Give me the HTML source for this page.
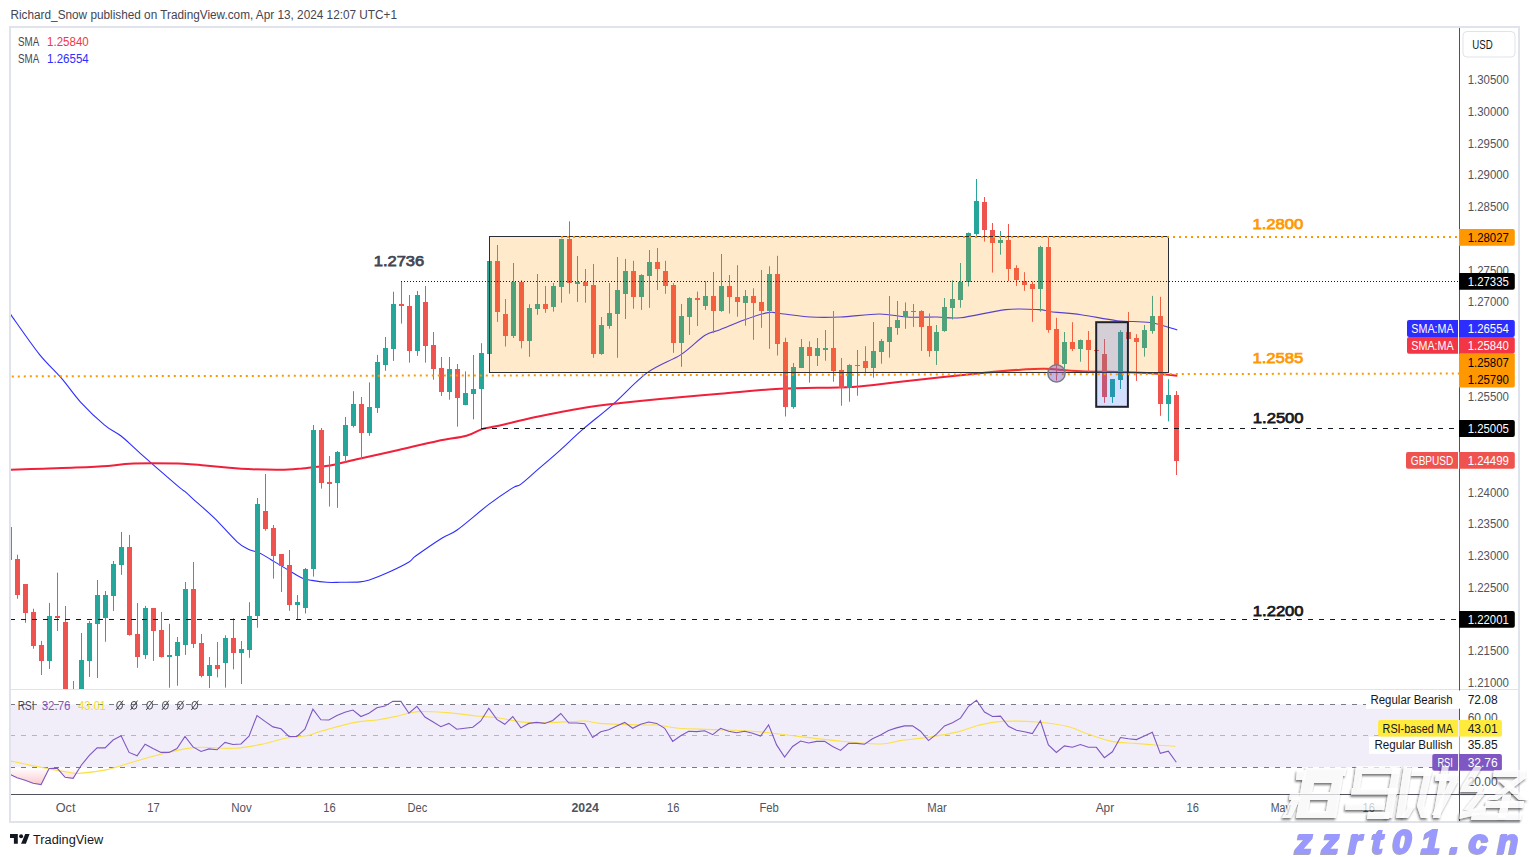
<!DOCTYPE html><html><head><meta charset="utf-8"><style>html,body{margin:0;padding:0;background:#fff;width:1529px;height:857px;overflow:hidden}svg{display:block}text{font-family:"Liberation Sans",sans-serif}</style></head><body>
<svg width="1529" height="857" viewBox="0 0 1529 857">
<defs><clipPath id="main"><rect x="11" y="28" width="1448.5" height="661"/></clipPath><clipPath id="rsi"><rect x="11" y="690" width="1448.5" height="104"/></clipPath><linearGradient id="rg" gradientUnits="userSpaceOnUse" x1="0" y1="767.3" x2="0" y2="786"><stop offset="0" stop-color="#f23645" stop-opacity="0"/><stop offset="1" stop-color="#f23645" stop-opacity="0.28"/></linearGradient></defs>
<rect width="1529" height="857" fill="#fff"/>
<text x="10.5" y="19" font-size="12" fill="#434651" textLength="386.5" lengthAdjust="spacingAndGlyphs">Richard_Snow published on TradingView.com, Apr 13, 2024 12:07 UTC+1</text>
<rect x="10" y="27" width="1509" height="795" fill="none" stroke="#e0e3eb" stroke-width="2"/>
<g clip-path="url(#main)">
<path d="M10.3,314.0 C15.1,320.7 30.7,343.4 39.2,354.1 C47.8,364.8 54.8,370.4 61.6,378.4 C68.5,386.3 73.1,394.0 80.3,401.8 C87.5,409.6 97.8,419.4 104.6,425.1 C111.4,430.9 115.5,431.6 121.4,436.3 C127.3,441.0 130.7,444.9 140.0,453.1 C149.3,461.3 169.8,479.3 177.3,485.7 C184.8,492.1 181.7,488.8 184.8,491.4 C187.9,494.0 191.0,497.1 196.0,501.6 C201.0,506.1 207.8,511.7 214.7,518.4 C221.5,525.1 231.5,536.7 237.1,541.8 C242.7,546.9 244.6,547.3 248.3,549.2 C252.0,551.1 255.8,551.3 259.5,553.0 C263.2,554.7 265.7,556.5 270.7,559.5 C275.7,562.5 284.1,567.6 289.4,570.7 C294.7,573.8 298.8,576.6 302.5,578.2 C306.2,579.8 307.8,579.7 311.8,580.4 C315.8,581.1 322.0,582.0 326.7,582.3 C331.4,582.6 334.4,582.4 340.0,582.3 C345.6,582.2 355.1,582.3 360.0,581.9 C364.9,581.5 364.6,581.5 369.3,580.0 C374.0,578.5 381.4,575.6 388.0,572.6 C394.6,569.6 403.9,565.1 408.6,562.3 C413.3,559.5 410.4,559.8 416.0,555.8 C421.6,551.8 435.3,542.3 442.2,538.0 C449.1,533.7 449.3,535.6 457.1,530.0 C464.9,524.4 479.5,511.5 488.8,504.4 C498.1,497.3 507.8,490.9 513.1,487.6 C518.4,484.3 516.6,487.3 520.6,484.4 C524.6,481.4 530.8,475.6 537.4,469.9 C544.0,464.2 552.6,456.9 560.0,450.3 C567.4,443.7 572.8,438.1 581.6,430.4 C590.4,422.7 602.1,413.9 613.0,404.3 C623.9,394.7 635.7,381.2 647.0,372.9 C658.3,364.6 671.4,360.8 681.0,354.6 C690.6,348.4 698.1,339.6 704.6,335.5 C711.1,331.4 713.4,332.3 720.0,329.7 C726.6,327.1 736.0,322.9 744.0,320.0 C752.0,317.1 762.1,313.7 768.1,312.6 C774.1,311.5 773.2,312.8 780.2,313.5 C787.2,314.2 800.3,316.4 810.3,317.0 C820.3,317.6 828.8,317.5 840.3,317.0 C851.8,316.5 868.4,314.0 879.4,314.0 C890.4,314.0 896.9,316.5 906.5,317.0 C916.1,317.5 928.0,316.9 937.0,317.0 C946.0,317.1 949.2,318.9 960.7,317.7 C972.2,316.5 992.8,311.0 1005.8,309.6 C1018.8,308.2 1031.4,309.2 1038.9,309.6 C1046.4,310.0 1043.9,310.9 1050.9,311.7 C1057.9,312.5 1070.0,313.2 1081.0,314.7 C1092.0,316.2 1105.6,319.4 1117.1,320.7 C1128.6,322.0 1140.2,320.9 1150.2,322.5 C1160.2,324.1 1172.8,328.8 1177.3,330.0" fill="none" stroke="#2d2dff" stroke-width="1.1"/>
<path d="M10.8,469.8 C16.2,469.6 32.4,469.1 43.2,468.7 C54.0,468.3 64.7,468.1 75.5,467.6 C86.3,467.1 99.0,466.5 108.0,465.9 C117.0,465.2 122.3,464.1 129.5,463.7 C136.7,463.3 142.0,463.3 151.0,463.3 C160.0,463.3 174.5,463.3 183.5,463.7 C192.5,464.1 197.8,464.9 205.0,465.5 C212.2,466.1 219.4,466.8 226.6,467.4 C233.8,468.0 239.2,468.7 248.2,469.1 C257.2,469.5 271.6,469.9 280.6,469.8 C289.6,469.7 296.8,468.9 302.2,468.5 C307.6,468.1 308.4,467.7 313.0,467.2 C317.6,466.7 322.3,466.9 330.0,465.5 C337.7,464.1 347.8,461.3 359.2,458.7 C370.6,456.1 385.4,453.0 398.5,450.0 C411.6,447.0 426.4,443.3 437.7,440.9 C449.0,438.5 459.1,437.7 466.5,435.7 C473.9,433.7 476.1,430.9 482.2,429.1 C488.3,427.3 494.4,426.7 503.1,424.7 C511.8,422.7 521.4,420.1 534.5,417.3 C547.6,414.6 567.2,410.6 581.6,408.2 C596.0,405.8 607.7,404.5 620.8,403.0 C633.9,401.5 643.5,400.5 660.0,399.0 C676.5,397.5 700.0,395.5 720.0,393.8 C740.0,392.1 758.1,389.9 780.2,388.7 C802.3,387.5 832.4,388.0 852.4,386.9 C872.4,385.8 878.5,384.2 900.5,381.8 C922.5,379.4 964.7,374.7 984.7,372.7 C1004.8,370.7 1010.8,370.3 1020.8,369.7 C1030.8,369.1 1034.9,368.6 1044.9,368.8 C1054.9,369.1 1065.0,370.6 1081.0,371.2 C1097.0,371.8 1125.2,371.9 1141.2,372.7 C1157.2,373.4 1171.3,375.2 1177.3,375.7" fill="none" stroke="#f0203a" stroke-width="2"/>
<rect x="9" y="527.0" width="1" height="33.0" fill="#ef5350"/>
<rect x="7" y="527" width="5" height="33" fill="#ef5350"/>
<rect x="17" y="554.7" width="1" height="44.0" fill="#ef5350"/>
<rect x="15" y="559" width="5" height="36" fill="#ef5350"/>
<rect x="25" y="584.0" width="1" height="38.8" fill="#ef5350"/>
<rect x="23" y="584" width="5" height="29" fill="#ef5350"/>
<rect x="33" y="608.7" width="1" height="40.0" fill="#ef5350"/>
<rect x="31" y="612" width="5" height="34" fill="#ef5350"/>
<rect x="41" y="640.9" width="1" height="34.1" fill="#ef5350"/>
<rect x="39" y="645" width="5" height="16" fill="#ef5350"/>
<rect x="49" y="602.9" width="1" height="66.1" fill="#26a69a"/>
<rect x="47" y="616" width="5" height="45" fill="#26a69a"/>
<rect x="57" y="572.6" width="1" height="58.4" fill="#ef5350"/>
<rect x="55" y="616" width="5" height="2" fill="#ef5350"/>
<rect x="65" y="606.0" width="1" height="94.0" fill="#ef5350"/>
<rect x="63" y="622" width="5" height="78" fill="#ef5350"/>
<rect x="73" y="681.0" width="1" height="19.0" fill="#ef5350"/>
<rect x="71" y="700" width="5" height="1" fill="#ef5350"/>
<rect x="81" y="633.0" width="1" height="67.0" fill="#26a69a"/>
<rect x="79" y="660" width="5" height="40" fill="#26a69a"/>
<rect x="89" y="621.0" width="1" height="56.0" fill="#26a69a"/>
<rect x="87" y="623" width="5" height="38" fill="#26a69a"/>
<rect x="97" y="580.0" width="1" height="98.0" fill="#26a69a"/>
<rect x="95" y="595" width="5" height="29" fill="#26a69a"/>
<rect x="105" y="591.0" width="1" height="50.7" fill="#26a69a"/>
<rect x="103" y="595" width="5" height="23" fill="#26a69a"/>
<rect x="113" y="561.0" width="1" height="49.9" fill="#26a69a"/>
<rect x="111" y="564" width="5" height="32" fill="#26a69a"/>
<rect x="121" y="531.9" width="1" height="42.9" fill="#26a69a"/>
<rect x="119" y="547" width="5" height="18" fill="#26a69a"/>
<rect x="129" y="534.9" width="1" height="100.8" fill="#ef5350"/>
<rect x="127" y="547" width="5" height="88" fill="#ef5350"/>
<rect x="137" y="603.0" width="1" height="64.8" fill="#ef5350"/>
<rect x="135" y="634" width="5" height="23" fill="#ef5350"/>
<rect x="145" y="605.9" width="1" height="53.0" fill="#26a69a"/>
<rect x="143" y="608" width="5" height="47" fill="#26a69a"/>
<rect x="153" y="607.9" width="1" height="53.0" fill="#ef5350"/>
<rect x="151" y="608" width="5" height="23" fill="#ef5350"/>
<rect x="161" y="611.9" width="1" height="45.6" fill="#ef5350"/>
<rect x="159" y="630" width="5" height="27" fill="#ef5350"/>
<rect x="169" y="623.8" width="1" height="63.9" fill="#26a69a"/>
<rect x="167" y="655" width="5" height="2" fill="#26a69a"/>
<rect x="177" y="637.0" width="1" height="48.7" fill="#26a69a"/>
<rect x="175" y="642" width="5" height="14" fill="#26a69a"/>
<rect x="185" y="582.0" width="1" height="72.9" fill="#26a69a"/>
<rect x="183" y="589" width="5" height="56" fill="#26a69a"/>
<rect x="193" y="562.0" width="1" height="86.0" fill="#ef5350"/>
<rect x="191" y="589" width="5" height="55" fill="#ef5350"/>
<rect x="201" y="634.0" width="1" height="43.4" fill="#ef5350"/>
<rect x="199" y="643" width="5" height="33" fill="#ef5350"/>
<rect x="209" y="657.0" width="1" height="31.0" fill="#26a69a"/>
<rect x="207" y="665" width="5" height="11" fill="#26a69a"/>
<rect x="217" y="642.0" width="1" height="35.4" fill="#ef5350"/>
<rect x="215" y="665" width="5" height="4" fill="#ef5350"/>
<rect x="225" y="635.3" width="1" height="52.3" fill="#26a69a"/>
<rect x="223" y="638" width="5" height="25" fill="#26a69a"/>
<rect x="233" y="618.3" width="1" height="51.0" fill="#ef5350"/>
<rect x="231" y="638" width="5" height="15" fill="#ef5350"/>
<rect x="241" y="641.0" width="1" height="43.0" fill="#26a69a"/>
<rect x="239" y="649" width="5" height="4" fill="#26a69a"/>
<rect x="249" y="602.2" width="1" height="55.6" fill="#26a69a"/>
<rect x="247" y="616" width="5" height="34" fill="#26a69a"/>
<rect x="257" y="498.0" width="1" height="129.7" fill="#26a69a"/>
<rect x="255" y="504" width="5" height="112" fill="#26a69a"/>
<rect x="265" y="474.0" width="1" height="56.6" fill="#ef5350"/>
<rect x="263" y="511" width="5" height="18" fill="#ef5350"/>
<rect x="273" y="525.0" width="1" height="53.6" fill="#ef5350"/>
<rect x="271" y="528" width="5" height="28" fill="#ef5350"/>
<rect x="281" y="554.0" width="1" height="38.0" fill="#ef5350"/>
<rect x="279" y="554" width="5" height="12" fill="#ef5350"/>
<rect x="289" y="550.0" width="1" height="60.8" fill="#ef5350"/>
<rect x="287" y="565" width="5" height="40" fill="#ef5350"/>
<rect x="297" y="595.0" width="1" height="24.5" fill="#26a69a"/>
<rect x="295" y="602" width="5" height="3" fill="#26a69a"/>
<rect x="305" y="568.0" width="1" height="45.5" fill="#26a69a"/>
<rect x="303" y="569" width="5" height="39" fill="#26a69a"/>
<rect x="313" y="425.0" width="1" height="151.6" fill="#26a69a"/>
<rect x="311" y="430" width="5" height="139" fill="#26a69a"/>
<rect x="321" y="428.0" width="1" height="60.6" fill="#ef5350"/>
<rect x="319" y="430" width="5" height="53" fill="#ef5350"/>
<rect x="329" y="456.0" width="1" height="50.5" fill="#ef5350"/>
<rect x="327" y="482" width="5" height="2" fill="#ef5350"/>
<rect x="337" y="451.0" width="1" height="56.8" fill="#26a69a"/>
<rect x="335" y="452" width="5" height="31" fill="#26a69a"/>
<rect x="345" y="417.0" width="1" height="45.4" fill="#26a69a"/>
<rect x="343" y="425" width="5" height="31" fill="#26a69a"/>
<rect x="353" y="391.2" width="1" height="36.3" fill="#26a69a"/>
<rect x="351" y="404" width="5" height="22" fill="#26a69a"/>
<rect x="361" y="397.0" width="1" height="62.0" fill="#ef5350"/>
<rect x="359" y="404" width="5" height="29" fill="#ef5350"/>
<rect x="369" y="382.4" width="1" height="53.4" fill="#26a69a"/>
<rect x="367" y="407" width="5" height="26" fill="#26a69a"/>
<rect x="377" y="354.9" width="1" height="58.1" fill="#26a69a"/>
<rect x="375" y="362" width="5" height="46" fill="#26a69a"/>
<rect x="385" y="337.0" width="1" height="33.8" fill="#26a69a"/>
<rect x="383" y="348" width="5" height="17" fill="#26a69a"/>
<rect x="393" y="291.7" width="1" height="69.2" fill="#26a69a"/>
<rect x="391" y="304" width="5" height="45" fill="#26a69a"/>
<rect x="401" y="281.5" width="1" height="42.1" fill="#ef5350"/>
<rect x="399" y="304" width="5" height="2" fill="#ef5350"/>
<rect x="409" y="295.0" width="1" height="67.6" fill="#ef5350"/>
<rect x="407" y="306" width="5" height="45" fill="#ef5350"/>
<rect x="417" y="291.0" width="1" height="64.8" fill="#26a69a"/>
<rect x="415" y="295" width="5" height="56" fill="#26a69a"/>
<rect x="425" y="286.0" width="1" height="76.6" fill="#ef5350"/>
<rect x="423" y="302" width="5" height="44" fill="#ef5350"/>
<rect x="433" y="332.0" width="1" height="47.7" fill="#ef5350"/>
<rect x="431" y="345" width="5" height="24" fill="#ef5350"/>
<rect x="441" y="357.0" width="1" height="38.9" fill="#ef5350"/>
<rect x="439" y="368" width="5" height="24" fill="#ef5350"/>
<rect x="449" y="357.0" width="1" height="42.7" fill="#26a69a"/>
<rect x="447" y="369" width="5" height="23" fill="#26a69a"/>
<rect x="457" y="364.0" width="1" height="62.6" fill="#ef5350"/>
<rect x="455" y="369" width="5" height="29" fill="#ef5350"/>
<rect x="465" y="371.4" width="1" height="33.9" fill="#26a69a"/>
<rect x="463" y="393" width="5" height="12" fill="#26a69a"/>
<rect x="473" y="355.0" width="1" height="64.4" fill="#26a69a"/>
<rect x="471" y="389" width="5" height="5" fill="#26a69a"/>
<rect x="481" y="343.2" width="1" height="84.8" fill="#26a69a"/>
<rect x="479" y="353" width="5" height="36" fill="#26a69a"/>
<rect x="489" y="260.6" width="1" height="92.9" fill="#26a69a"/>
<rect x="487" y="261" width="5" height="93" fill="#26a69a"/>
<rect x="497" y="245.0" width="1" height="76.9" fill="#ef5350"/>
<rect x="495" y="261" width="5" height="51" fill="#ef5350"/>
<rect x="505" y="299.0" width="1" height="47.5" fill="#ef5350"/>
<rect x="503" y="314" width="5" height="22" fill="#ef5350"/>
<rect x="513" y="263.0" width="1" height="75.0" fill="#26a69a"/>
<rect x="511" y="282" width="5" height="54" fill="#26a69a"/>
<rect x="521" y="280.3" width="1" height="68.0" fill="#ef5350"/>
<rect x="519" y="282" width="5" height="59" fill="#ef5350"/>
<rect x="529" y="304.2" width="1" height="52.6" fill="#26a69a"/>
<rect x="527" y="308" width="5" height="33" fill="#26a69a"/>
<rect x="537" y="274.0" width="1" height="40.8" fill="#26a69a"/>
<rect x="535" y="304" width="5" height="5" fill="#26a69a"/>
<rect x="545" y="286.0" width="1" height="26.8" fill="#ef5350"/>
<rect x="543" y="304" width="5" height="5" fill="#ef5350"/>
<rect x="553" y="283.0" width="1" height="28.6" fill="#26a69a"/>
<rect x="551" y="286" width="5" height="21" fill="#26a69a"/>
<rect x="561" y="238.8" width="1" height="63.9" fill="#26a69a"/>
<rect x="559" y="239" width="5" height="48" fill="#26a69a"/>
<rect x="569" y="221.3" width="1" height="72.4" fill="#ef5350"/>
<rect x="567" y="239" width="5" height="44" fill="#ef5350"/>
<rect x="577" y="256.0" width="1" height="45.9" fill="#26a69a"/>
<rect x="575" y="282" width="5" height="2" fill="#26a69a"/>
<rect x="585" y="269.0" width="1" height="33.7" fill="#ef5350"/>
<rect x="583" y="282" width="5" height="4" fill="#ef5350"/>
<rect x="593" y="264.0" width="1" height="93.8" fill="#ef5350"/>
<rect x="591" y="285" width="5" height="69" fill="#ef5350"/>
<rect x="601" y="317.0" width="1" height="37.8" fill="#26a69a"/>
<rect x="599" y="325" width="5" height="29" fill="#26a69a"/>
<rect x="609" y="283.0" width="1" height="45.7" fill="#26a69a"/>
<rect x="607" y="313" width="5" height="13" fill="#26a69a"/>
<rect x="617" y="257.0" width="1" height="100.8" fill="#26a69a"/>
<rect x="615" y="290" width="5" height="24" fill="#26a69a"/>
<rect x="625" y="258.9" width="1" height="60.1" fill="#26a69a"/>
<rect x="623" y="271" width="5" height="23" fill="#26a69a"/>
<rect x="633" y="260.8" width="1" height="47.9" fill="#ef5350"/>
<rect x="631" y="271" width="5" height="26" fill="#ef5350"/>
<rect x="641" y="274.2" width="1" height="35.7" fill="#26a69a"/>
<rect x="639" y="275" width="5" height="22" fill="#26a69a"/>
<rect x="649" y="250.0" width="1" height="57.8" fill="#26a69a"/>
<rect x="647" y="262" width="5" height="14" fill="#26a69a"/>
<rect x="657" y="248.0" width="1" height="42.0" fill="#ef5350"/>
<rect x="655" y="262" width="5" height="7" fill="#ef5350"/>
<rect x="665" y="260.8" width="1" height="33.0" fill="#ef5350"/>
<rect x="663" y="271" width="5" height="15" fill="#ef5350"/>
<rect x="673" y="283.2" width="1" height="69.6" fill="#ef5350"/>
<rect x="671" y="285" width="5" height="58" fill="#ef5350"/>
<rect x="681" y="304.0" width="1" height="62.8" fill="#26a69a"/>
<rect x="679" y="316" width="5" height="27" fill="#26a69a"/>
<rect x="689" y="297.2" width="1" height="37.7" fill="#26a69a"/>
<rect x="687" y="298" width="5" height="19" fill="#26a69a"/>
<rect x="697" y="291.6" width="1" height="34.4" fill="#ef5350"/>
<rect x="695" y="298" width="5" height="2" fill="#ef5350"/>
<rect x="705" y="281.0" width="1" height="28.9" fill="#26a69a"/>
<rect x="703" y="296" width="5" height="10" fill="#26a69a"/>
<rect x="713" y="272.0" width="1" height="61.2" fill="#ef5350"/>
<rect x="711" y="296" width="5" height="15" fill="#ef5350"/>
<rect x="721" y="254.0" width="1" height="57.8" fill="#26a69a"/>
<rect x="719" y="286" width="5" height="25" fill="#26a69a"/>
<rect x="729" y="275.0" width="1" height="38.5" fill="#ef5350"/>
<rect x="727" y="286" width="5" height="11" fill="#ef5350"/>
<rect x="737" y="265.2" width="1" height="51.5" fill="#ef5350"/>
<rect x="735" y="297" width="5" height="5" fill="#ef5350"/>
<rect x="745" y="290.0" width="1" height="35.7" fill="#26a69a"/>
<rect x="743" y="296" width="5" height="7" fill="#26a69a"/>
<rect x="753" y="288.3" width="1" height="51.5" fill="#ef5350"/>
<rect x="751" y="296" width="5" height="7" fill="#ef5350"/>
<rect x="761" y="270.0" width="1" height="57.8" fill="#ef5350"/>
<rect x="759" y="302" width="5" height="9" fill="#ef5350"/>
<rect x="769" y="266.3" width="1" height="82.5" fill="#26a69a"/>
<rect x="767" y="274" width="5" height="37" fill="#26a69a"/>
<rect x="777" y="255.8" width="1" height="99.7" fill="#ef5350"/>
<rect x="775" y="274" width="5" height="70" fill="#ef5350"/>
<rect x="785" y="337.7" width="1" height="78.8" fill="#ef5350"/>
<rect x="783" y="342" width="5" height="65" fill="#ef5350"/>
<rect x="793" y="363.0" width="1" height="45.7" fill="#26a69a"/>
<rect x="791" y="367" width="5" height="40" fill="#26a69a"/>
<rect x="801" y="339.0" width="1" height="28.6" fill="#26a69a"/>
<rect x="799" y="347" width="5" height="21" fill="#26a69a"/>
<rect x="809" y="341.3" width="1" height="41.3" fill="#ef5350"/>
<rect x="807" y="347" width="5" height="9" fill="#ef5350"/>
<rect x="817" y="338.0" width="1" height="28.0" fill="#26a69a"/>
<rect x="815" y="348" width="5" height="8" fill="#26a69a"/>
<rect x="825" y="330.0" width="1" height="30.7" fill="#26a69a"/>
<rect x="823" y="348" width="5" height="2" fill="#26a69a"/>
<rect x="833" y="311.0" width="1" height="70.7" fill="#ef5350"/>
<rect x="831" y="348" width="5" height="23" fill="#ef5350"/>
<rect x="841" y="358.0" width="1" height="47.7" fill="#ef5350"/>
<rect x="839" y="370" width="5" height="18" fill="#ef5350"/>
<rect x="849" y="364.2" width="1" height="37.5" fill="#26a69a"/>
<rect x="847" y="365" width="5" height="23" fill="#26a69a"/>
<rect x="857" y="350.0" width="1" height="45.7" fill="#26a69a"/>
<rect x="855" y="365" width="5" height="1" fill="#26a69a"/>
<rect x="865" y="346.2" width="1" height="27.1" fill="#ef5350"/>
<rect x="863" y="361" width="5" height="7" fill="#ef5350"/>
<rect x="873" y="322.0" width="1" height="55.7" fill="#26a69a"/>
<rect x="871" y="351" width="5" height="17" fill="#26a69a"/>
<rect x="881" y="339.0" width="1" height="24.7" fill="#26a69a"/>
<rect x="879" y="341" width="5" height="11" fill="#26a69a"/>
<rect x="889" y="296.0" width="1" height="61.6" fill="#26a69a"/>
<rect x="887" y="327" width="5" height="15" fill="#26a69a"/>
<rect x="897" y="301.0" width="1" height="33.8" fill="#26a69a"/>
<rect x="895" y="320" width="5" height="8" fill="#26a69a"/>
<rect x="905" y="302.4" width="1" height="26.4" fill="#26a69a"/>
<rect x="903" y="311" width="5" height="6" fill="#26a69a"/>
<rect x="913" y="304.0" width="1" height="22.9" fill="#26a69a"/>
<rect x="911" y="311" width="5" height="1" fill="#26a69a"/>
<rect x="921" y="310.2" width="1" height="40.7" fill="#ef5350"/>
<rect x="919" y="311" width="5" height="16" fill="#ef5350"/>
<rect x="929" y="313.4" width="1" height="43.4" fill="#ef5350"/>
<rect x="927" y="326" width="5" height="25" fill="#ef5350"/>
<rect x="936" y="325.0" width="1" height="39.9" fill="#26a69a"/>
<rect x="934" y="332" width="5" height="19" fill="#26a69a"/>
<rect x="944" y="298.0" width="1" height="33.8" fill="#26a69a"/>
<rect x="942" y="307" width="5" height="24" fill="#26a69a"/>
<rect x="952" y="280.3" width="1" height="39.2" fill="#26a69a"/>
<rect x="950" y="299" width="5" height="9" fill="#26a69a"/>
<rect x="960" y="263.0" width="1" height="44.7" fill="#26a69a"/>
<rect x="958" y="282" width="5" height="18" fill="#26a69a"/>
<rect x="968" y="232.5" width="1" height="53.9" fill="#26a69a"/>
<rect x="966" y="233" width="5" height="49" fill="#26a69a"/>
<rect x="976" y="179.0" width="1" height="56.7" fill="#26a69a"/>
<rect x="974" y="201" width="5" height="33" fill="#26a69a"/>
<rect x="984" y="197.0" width="1" height="44.6" fill="#ef5350"/>
<rect x="982" y="202" width="5" height="28" fill="#ef5350"/>
<rect x="992" y="223.0" width="1" height="49.6" fill="#ef5350"/>
<rect x="990" y="230" width="5" height="13" fill="#ef5350"/>
<rect x="1000" y="231.0" width="1" height="23.7" fill="#26a69a"/>
<rect x="998" y="240" width="5" height="3" fill="#26a69a"/>
<rect x="1008" y="224.0" width="1" height="57.1" fill="#ef5350"/>
<rect x="1006" y="240" width="5" height="29" fill="#ef5350"/>
<rect x="1016" y="265.2" width="1" height="20.7" fill="#ef5350"/>
<rect x="1014" y="268" width="5" height="12" fill="#ef5350"/>
<rect x="1024" y="272.2" width="1" height="18.6" fill="#ef5350"/>
<rect x="1022" y="281" width="5" height="4" fill="#ef5350"/>
<rect x="1032" y="281.5" width="1" height="40.3" fill="#ef5350"/>
<rect x="1030" y="284" width="5" height="5" fill="#ef5350"/>
<rect x="1040" y="245.8" width="1" height="65.9" fill="#26a69a"/>
<rect x="1038" y="247" width="5" height="42" fill="#26a69a"/>
<rect x="1048" y="237.5" width="1" height="95.2" fill="#ef5350"/>
<rect x="1046" y="247" width="5" height="83" fill="#ef5350"/>
<rect x="1056" y="317.8" width="1" height="62.7" fill="#ef5350"/>
<rect x="1054" y="329" width="5" height="36" fill="#ef5350"/>
<rect x="1064" y="332.0" width="1" height="36.8" fill="#26a69a"/>
<rect x="1062" y="342" width="5" height="22" fill="#26a69a"/>
<rect x="1072" y="322.2" width="1" height="28.8" fill="#ef5350"/>
<rect x="1070" y="342" width="5" height="7" fill="#ef5350"/>
<rect x="1080" y="339.5" width="1" height="22.2" fill="#26a69a"/>
<rect x="1078" y="340" width="5" height="9" fill="#26a69a"/>
<rect x="1088" y="331.0" width="1" height="42.4" fill="#ef5350"/>
<rect x="1086" y="340" width="5" height="10" fill="#ef5350"/>
<rect x="1096" y="350.0" width="1" height="1.0" fill="#ef5350"/>
<rect x="1094" y="350" width="5" height="1" fill="#ef5350"/>
<rect x="1104" y="339.0" width="1" height="63.9" fill="#ef5350"/>
<rect x="1102" y="354" width="5" height="43" fill="#ef5350"/>
<rect x="1112" y="379.2" width="1" height="23.7" fill="#26a69a"/>
<rect x="1110" y="379" width="5" height="18" fill="#26a69a"/>
<rect x="1120" y="330.2" width="1" height="58.8" fill="#26a69a"/>
<rect x="1118" y="332" width="5" height="48" fill="#26a69a"/>
<rect x="1128" y="312.0" width="1" height="26.8" fill="#ef5350"/>
<rect x="1126" y="332" width="5" height="7" fill="#ef5350"/>
<rect x="1136" y="334.2" width="1" height="46.7" fill="#ef5350"/>
<rect x="1134" y="338" width="5" height="4" fill="#ef5350"/>
<rect x="1144" y="325.0" width="1" height="31.6" fill="#26a69a"/>
<rect x="1142" y="330" width="5" height="18" fill="#26a69a"/>
<rect x="1152" y="295.9" width="1" height="37.8" fill="#26a69a"/>
<rect x="1150" y="316" width="5" height="15" fill="#26a69a"/>
<rect x="1160" y="296.8" width="1" height="119.0" fill="#ef5350"/>
<rect x="1158" y="316" width="5" height="88" fill="#ef5350"/>
<rect x="1168" y="379.2" width="1" height="42.1" fill="#26a69a"/>
<rect x="1166" y="395" width="5" height="9" fill="#26a69a"/>
<rect x="1176" y="391.0" width="1" height="84.0" fill="#ef5350"/>
<rect x="1174" y="395" width="5" height="66" fill="#ef5350"/>
<rect x="489.5" y="236.5" width="679" height="136" fill="rgba(255,152,0,0.2)" stroke="#2a2e39" stroke-width="1"/>
<rect x="1096.2" y="322.2" width="31.7" height="84.6" fill="rgba(41,98,255,0.2)" stroke="#1e222d" stroke-width="2"/>
<line x1="561" y1="237" x2="1459" y2="237" stroke="#ff9800" stroke-width="2" stroke-dasharray="2 4"/>
<line x1="11.8" y1="376.4" x2="1459" y2="373.5" stroke="#ff9800" stroke-width="2" stroke-dasharray="2 4"/>
<line x1="401" y1="281.5" x2="1459" y2="281.5" stroke="#131722" stroke-width="1" stroke-dasharray="1 2"/>
<line x1="481" y1="428.5" x2="1459" y2="428.5" stroke="#131722" stroke-width="1" stroke-dasharray="5 6"/>
<line x1="10" y1="619.5" x2="1459" y2="619.5" stroke="#131722" stroke-width="1" stroke-dasharray="5 6"/>
<circle cx="1056.5" cy="373.4" r="8.6" fill="rgba(126,87,194,0.45)" stroke="#787b86" stroke-width="1.5"/>
</g>
<text x="373.8" y="266" font-size="15" fill="#434651" stroke="#434651" stroke-width="0.75" textLength="50.4" lengthAdjust="spacingAndGlyphs">1.2736</text>
<text x="1252.4" y="229" font-size="15" fill="#ff9800" stroke="#ff9800" stroke-width="0.75" textLength="51" lengthAdjust="spacingAndGlyphs">1.2800</text>
<text x="1252.4" y="363" font-size="15" fill="#ff9800" stroke="#ff9800" stroke-width="0.75" textLength="51" lengthAdjust="spacingAndGlyphs">1.2585</text>
<text x="1252.8" y="422.8" font-size="15" fill="#131722" stroke="#131722" stroke-width="0.75" textLength="50.8" lengthAdjust="spacingAndGlyphs">1.2500</text>
<text x="1252.8" y="616" font-size="15" fill="#131722" stroke="#131722" stroke-width="0.75" textLength="50.8" lengthAdjust="spacingAndGlyphs">1.2200</text>
<text x="18" y="45.8" font-size="12" fill="#434651" textLength="21.2" lengthAdjust="spacingAndGlyphs">SMA</text><text x="47.1" y="45.8" font-size="12" fill="#f23645" textLength="41.6" lengthAdjust="spacingAndGlyphs">1.25840</text>
<text x="18" y="62.8" font-size="12" fill="#434651" textLength="21.2" lengthAdjust="spacingAndGlyphs">SMA</text><text x="47.1" y="62.8" font-size="12" fill="#2d2dff" textLength="41.6" lengthAdjust="spacingAndGlyphs">1.26554</text>
<g clip-path="url(#rsi)">
<rect x="11" y="704.4" width="1448" height="62.9" fill="rgba(126,87,194,0.1)"/>
<line x1="10" y1="704.5" x2="1459" y2="704.5" stroke="#787b86" stroke-width="1" stroke-dasharray="5 6"/>
<line x1="10" y1="735.5" x2="1459" y2="735.5" stroke="rgba(120,123,134,0.5)" stroke-width="1" stroke-dasharray="5 6"/>
<line x1="10" y1="767.5" x2="1459" y2="767.5" stroke="#787b86" stroke-width="1" stroke-dasharray="5 6"/>
<clipPath id="os"><rect x="0" y="767.3" width="1529" height="30"/></clipPath>
<polygon points="10.0,767.3 10.0,774.4 17.1,777.7 25.1,780.2 33.1,783.2 41.1,784.6 49.1,768.5 57.1,768.1 65.1,777.3 73.1,778.3 81.1,765.5 89.1,755.7 97.1,747.9 105.1,747.9 113.1,740.0 121.1,735.7 129.1,752.4 137.1,755.7 145.1,744.3 153.0,748.5 161.0,752.4 169.0,752.4 177.0,748.5 185.0,736.5 193.0,746.9 201.0,751.4 209.0,748.9 217.0,749.8 225.0,742.4 233.0,744.5 241.0,744.0 249.0,736.1 257.0,715.5 265.0,721.4 273.0,726.9 281.0,728.8 288.9,736.5 296.9,736.5 304.9,729.2 312.9,709.2 320.9,719.8 328.9,720.0 336.9,715.5 344.9,712.2 352.9,710.0 360.9,716.5 368.9,713.2 376.9,707.7 384.9,706.1 392.9,701.2 400.9,701.4 408.9,713.2 416.9,706.3 424.9,717.0 432.8,721.8 440.8,726.7 448.8,723.4 456.8,729.2 464.8,728.3 472.8,727.3 480.8,721.0 488.8,708.2 496.8,719.4 504.8,724.3 512.8,716.5 520.8,727.9 528.8,723.4 536.8,722.4 544.8,723.4 552.8,720.4 560.8,713.5 568.8,723.0 576.7,723.0 584.7,723.7 592.7,737.5 600.7,731.8 608.7,729.8 616.7,725.9 624.7,722.4 632.7,728.3 640.7,724.3 648.7,722.0 656.7,723.4 664.7,728.3 672.7,741.4 680.7,735.7 688.7,731.2 696.7,731.6 704.7,730.8 712.7,734.7 720.6,728.3 728.6,731.2 736.6,732.8 744.6,731.2 752.6,733.2 760.6,736.1 768.6,724.9 776.6,744.9 784.6,757.1 792.6,746.5 800.6,741.0 808.6,743.0 816.6,741.4 824.6,741.4 832.6,746.5 840.6,750.4 848.6,743.4 856.6,743.4 864.5,744.3 872.5,738.7 880.5,735.1 888.5,730.6 896.5,727.9 904.5,725.9 912.5,725.7 920.5,731.2 928.5,740.6 936.5,734.1 944.5,725.9 952.5,722.8 960.5,718.1 968.5,706.3 976.5,700.2 984.5,712.0 992.5,716.5 1000.5,716.1 1008.4,726.3 1016.4,730.2 1024.4,731.8 1032.4,733.6 1040.4,720.8 1048.4,744.9 1056.4,752.4 1064.4,745.9 1072.4,747.3 1080.4,744.5 1088.4,747.3 1096.4,747.3 1104.4,757.7 1112.4,751.8 1120.4,737.5 1128.4,738.7 1136.4,739.6 1144.4,736.1 1152.3,732.2 1160.3,753.4 1168.3,751.2 1176.3,762.2 1176.3,767.3" fill="url(#rg)" clip-path="url(#os)"/>
<path d="M10.4,761.0 C13.3,761.6 21.5,763.4 27.6,764.6 C33.7,765.9 40.7,767.3 47.2,768.5 C53.8,769.7 61.7,771.2 66.9,772.0 C72.1,772.8 72.1,773.8 78.6,773.4 C85.1,773.0 98.2,771.4 106.0,769.9 C113.8,768.4 117.5,766.6 125.7,764.2 C133.9,761.8 145.3,758.2 155.1,755.7 C164.9,753.2 177.1,750.3 184.6,748.9 C192.1,747.5 192.1,747.4 200.3,747.3 C208.5,747.2 223.2,748.8 233.6,748.3 C244.0,747.8 254.2,745.7 263.0,744.0 C271.8,742.3 279.1,739.4 286.6,738.0 C294.1,736.6 302.5,736.6 308.0,735.5 C313.5,734.4 311.8,733.8 319.6,731.6 C327.4,729.4 345.1,724.4 354.9,722.4 C364.7,720.4 371.3,720.9 378.5,719.8 C385.7,718.7 391.5,717.4 398.0,716.0 C404.5,714.6 409.5,712.2 417.7,711.6 C425.9,711.0 437.2,711.9 447.0,712.6 C456.8,713.3 468.4,715.2 476.6,716.0 C484.8,716.8 488.0,716.4 496.2,717.5 C504.4,718.6 515.8,721.6 525.6,722.4 C535.4,723.2 545.2,722.6 555.0,722.4 C564.8,722.2 577.0,720.8 584.5,721.0 C592.0,721.2 590.9,722.7 600.0,723.4 C609.1,724.1 629.7,724.7 639.2,725.0 C648.7,725.3 650.4,724.5 656.9,725.0 C663.4,725.5 668.4,727.5 678.5,728.3 C688.6,729.1 704.6,729.0 717.7,729.6 C730.8,730.2 743.9,730.5 757.0,731.6 C770.1,732.7 783.1,734.6 796.2,736.1 C809.3,737.6 821.3,739.3 835.4,740.6 C849.5,741.9 869.8,744.0 880.6,744.0 C891.4,744.0 891.9,741.8 900.0,740.6 C908.1,739.5 919.6,738.6 929.4,737.1 C939.2,735.6 950.7,733.6 958.9,731.6 C967.1,729.6 971.3,727.0 978.5,725.3 C985.7,723.6 992.2,721.9 1002.0,721.4 C1011.8,720.9 1026.5,721.2 1037.3,722.0 C1048.1,722.8 1058.3,724.3 1066.8,726.3 C1075.3,728.3 1080.8,731.6 1088.3,734.1 C1095.8,736.6 1104.1,739.9 1111.9,741.4 C1119.8,742.9 1128.2,742.8 1135.4,743.4 C1142.6,744.0 1148.3,744.5 1155.0,745.0 C1161.7,745.5 1172.2,746.1 1175.6,746.3" fill="none" stroke="#fbe14a" stroke-width="1.1"/>
<polyline points="10.0,774.4 17.1,777.7 25.1,780.2 33.1,783.2 41.1,784.6 49.1,768.5 57.1,768.1 65.1,777.3 73.1,778.3 81.1,765.5 89.1,755.7 97.1,747.9 105.1,747.9 113.1,740.0 121.1,735.7 129.1,752.4 137.1,755.7 145.1,744.3 153.0,748.5 161.0,752.4 169.0,752.4 177.0,748.5 185.0,736.5 193.0,746.9 201.0,751.4 209.0,748.9 217.0,749.8 225.0,742.4 233.0,744.5 241.0,744.0 249.0,736.1 257.0,715.5 265.0,721.4 273.0,726.9 281.0,728.8 288.9,736.5 296.9,736.5 304.9,729.2 312.9,709.2 320.9,719.8 328.9,720.0 336.9,715.5 344.9,712.2 352.9,710.0 360.9,716.5 368.9,713.2 376.9,707.7 384.9,706.1 392.9,701.2 400.9,701.4 408.9,713.2 416.9,706.3 424.9,717.0 432.8,721.8 440.8,726.7 448.8,723.4 456.8,729.2 464.8,728.3 472.8,727.3 480.8,721.0 488.8,708.2 496.8,719.4 504.8,724.3 512.8,716.5 520.8,727.9 528.8,723.4 536.8,722.4 544.8,723.4 552.8,720.4 560.8,713.5 568.8,723.0 576.7,723.0 584.7,723.7 592.7,737.5 600.7,731.8 608.7,729.8 616.7,725.9 624.7,722.4 632.7,728.3 640.7,724.3 648.7,722.0 656.7,723.4 664.7,728.3 672.7,741.4 680.7,735.7 688.7,731.2 696.7,731.6 704.7,730.8 712.7,734.7 720.6,728.3 728.6,731.2 736.6,732.8 744.6,731.2 752.6,733.2 760.6,736.1 768.6,724.9 776.6,744.9 784.6,757.1 792.6,746.5 800.6,741.0 808.6,743.0 816.6,741.4 824.6,741.4 832.6,746.5 840.6,750.4 848.6,743.4 856.6,743.4 864.5,744.3 872.5,738.7 880.5,735.1 888.5,730.6 896.5,727.9 904.5,725.9 912.5,725.7 920.5,731.2 928.5,740.6 936.5,734.1 944.5,725.9 952.5,722.8 960.5,718.1 968.5,706.3 976.5,700.2 984.5,712.0 992.5,716.5 1000.5,716.1 1008.4,726.3 1016.4,730.2 1024.4,731.8 1032.4,733.6 1040.4,720.8 1048.4,744.9 1056.4,752.4 1064.4,745.9 1072.4,747.3 1080.4,744.5 1088.4,747.3 1096.4,747.3 1104.4,757.7 1112.4,751.8 1120.4,737.5 1128.4,738.7 1136.4,739.6 1144.4,736.1 1152.3,732.2 1160.3,753.4 1168.3,751.2 1176.3,762.2" fill="none" stroke="#7e57c2" stroke-width="1.1"/>
</g>
<text x="17.8" y="709.5" font-size="12" fill="#434651" textLength="16.7" lengthAdjust="spacingAndGlyphs">RSI</text>
<text x="41.7" y="709.5" font-size="12" fill="#7e57c2" textLength="28.7" lengthAdjust="spacingAndGlyphs">32.76</text>
<text x="78.2" y="709.5" font-size="12" fill="#f7dc1e" textLength="27.8" lengthAdjust="spacingAndGlyphs">43.01</text>
<g stroke="#434651" stroke-width="1" fill="none"><ellipse cx="119.60000000000001" cy="705.3" rx="2.9" ry="3.9"/><line x1="116.10000000000001" y1="710" x2="123.10000000000001" y2="700.6"/></g>
<g stroke="#434651" stroke-width="1" fill="none"><ellipse cx="134.0" cy="705.3" rx="2.9" ry="3.9"/><line x1="130.5" y1="710" x2="137.5" y2="700.6"/></g>
<g stroke="#434651" stroke-width="1" fill="none"><ellipse cx="149.70000000000002" cy="705.3" rx="2.9" ry="3.9"/><line x1="146.20000000000002" y1="710" x2="153.20000000000002" y2="700.6"/></g>
<g stroke="#434651" stroke-width="1" fill="none"><ellipse cx="165.4" cy="705.3" rx="2.9" ry="3.9"/><line x1="161.9" y1="710" x2="168.9" y2="700.6"/></g>
<g stroke="#434651" stroke-width="1" fill="none"><ellipse cx="180.4" cy="705.3" rx="2.9" ry="3.9"/><line x1="176.9" y1="710" x2="183.9" y2="700.6"/></g>
<g stroke="#434651" stroke-width="1" fill="none"><ellipse cx="194.8" cy="705.3" rx="2.9" ry="3.9"/><line x1="191.3" y1="710" x2="198.3" y2="700.6"/></g>
<line x1="11" y1="689.5" x2="1518" y2="689.5" stroke="#e0e3eb" stroke-width="1"/>
<line x1="11" y1="794.5" x2="1518" y2="794.5" stroke="#50535e" stroke-width="1"/>
<line x1="1459.5" y1="28" x2="1459.5" y2="821" stroke="#50535e" stroke-width="1"/>
<text x="1509" y="84.3" font-size="12" fill="#50535e" text-anchor="end" textLength="41.3" lengthAdjust="spacingAndGlyphs">1.30500</text>
<text x="1509" y="116.0" font-size="12" fill="#50535e" text-anchor="end" textLength="41.3" lengthAdjust="spacingAndGlyphs">1.30000</text>
<text x="1509" y="147.7" font-size="12" fill="#50535e" text-anchor="end" textLength="41.3" lengthAdjust="spacingAndGlyphs">1.29500</text>
<text x="1509" y="179.4" font-size="12" fill="#50535e" text-anchor="end" textLength="41.3" lengthAdjust="spacingAndGlyphs">1.29000</text>
<text x="1509" y="211.1" font-size="12" fill="#50535e" text-anchor="end" textLength="41.3" lengthAdjust="spacingAndGlyphs">1.28500</text>
<text x="1509" y="274.6" font-size="12" fill="#50535e" text-anchor="end" textLength="41.3" lengthAdjust="spacingAndGlyphs">1.27500</text>
<text x="1509" y="306.3" font-size="12" fill="#50535e" text-anchor="end" textLength="41.3" lengthAdjust="spacingAndGlyphs">1.27000</text>
<text x="1509" y="401.4" font-size="12" fill="#50535e" text-anchor="end" textLength="41.3" lengthAdjust="spacingAndGlyphs">1.25500</text>
<text x="1509" y="496.5" font-size="12" fill="#50535e" text-anchor="end" textLength="41.3" lengthAdjust="spacingAndGlyphs">1.24000</text>
<text x="1509" y="528.2" font-size="12" fill="#50535e" text-anchor="end" textLength="41.3" lengthAdjust="spacingAndGlyphs">1.23500</text>
<text x="1509" y="559.9" font-size="12" fill="#50535e" text-anchor="end" textLength="41.3" lengthAdjust="spacingAndGlyphs">1.23000</text>
<text x="1509" y="591.7" font-size="12" fill="#50535e" text-anchor="end" textLength="41.3" lengthAdjust="spacingAndGlyphs">1.22500</text>
<text x="1509" y="655.1" font-size="12" fill="#50535e" text-anchor="end" textLength="41.3" lengthAdjust="spacingAndGlyphs">1.21500</text>
<text x="1509" y="686.8" font-size="12" fill="#50535e" text-anchor="end" textLength="41.3" lengthAdjust="spacingAndGlyphs">1.21000</text>
<rect x="1463" y="31.5" width="52" height="25.5" rx="4" fill="#fff" stroke="#e0e3eb" stroke-width="1"/>
<text x="1472.3" y="48.5" font-size="12" fill="#131722" textLength="20.4" lengthAdjust="spacingAndGlyphs">USD</text>
<path d="M1459,228.9 H1512.8 a2,2 0 0 1 2,2 V243.8 a2,2 0 0 1 -2,2 H1459 Z" fill="#ff9800"/>
<text x="1508.9" y="241.7" font-size="12" fill="#000" text-anchor="end" textLength="41.2" lengthAdjust="spacingAndGlyphs">1.28027</text>
<path d="M1459,273.1 H1512.8 a2,2 0 0 1 2,2 V287.7 a2,2 0 0 1 -2,2 H1459 Z" fill="#000"/>
<text x="1508.9" y="285.7" font-size="12" fill="#fff" text-anchor="end" textLength="41.2" lengthAdjust="spacingAndGlyphs">1.27335</text>
<path d="M1459,320.1 H1512.8 a2,2 0 0 1 2,2 V334.9 a2,2 0 0 1 -2,2 H1459 Z" fill="#2d2dff"/>
<text x="1508.9" y="332.8" font-size="12" fill="#fff" text-anchor="end" textLength="41.2" lengthAdjust="spacingAndGlyphs">1.26554</text>
<path d="M1458,320.1 H1409 a2,2 0 0 0 -2,2 V334.9 a2,2 0 0 0 2,2 H1458 Z" fill="#2d2dff"/>
<rect x="1458" y="320.1" width="1" height="16.8" fill="#fff"/>
<text x="1432.5" y="332.8" font-size="12" fill="#fff" text-anchor="middle" textLength="42.3" lengthAdjust="spacingAndGlyphs">SMA:MA</text>
<path d="M1459,336.9 H1512.8 a2,2 0 0 1 2,2 V351.7 a2,2 0 0 1 -2,2 H1459 Z" fill="#f23645"/>
<text x="1508.9" y="349.6" font-size="12" fill="#fff" text-anchor="end" textLength="41.2" lengthAdjust="spacingAndGlyphs">1.25840</text>
<path d="M1458,336.9 H1409 a2,2 0 0 0 -2,2 V351.7 a2,2 0 0 0 2,2 H1458 Z" fill="#f23645"/>
<rect x="1458" y="336.9" width="1" height="16.8" fill="#fff"/>
<text x="1432.5" y="349.6" font-size="12" fill="#fff" text-anchor="middle" textLength="42.3" lengthAdjust="spacingAndGlyphs">SMA:MA</text>
<path d="M1459,353.7 H1514.8 V385.6 a2,2 0 0 1 -2,2 H1459 Z" fill="#ff9800"/>
<text x="1508.9" y="366.9" font-size="12" fill="#000" text-anchor="end" textLength="41.2" lengthAdjust="spacingAndGlyphs">1.25807</text>
<text x="1508.9" y="383.7" font-size="12" fill="#000" text-anchor="end" textLength="41.2" lengthAdjust="spacingAndGlyphs">1.25790</text>
<path d="M1459,420.1 H1512.8 a2,2 0 0 1 2,2 V434.9 a2,2 0 0 1 -2,2 H1459 Z" fill="#000"/>
<text x="1508.9" y="432.8" font-size="12" fill="#fff" text-anchor="end" textLength="41.2" lengthAdjust="spacingAndGlyphs">1.25005</text>
<path d="M1459,452 H1512.8 a2,2 0 0 1 2,2 V466.8 a2,2 0 0 1 -2,2 H1459 Z" fill="#ef5350"/>
<text x="1508.9" y="464.7" font-size="12" fill="#fff" text-anchor="end" textLength="41.2" lengthAdjust="spacingAndGlyphs">1.24499</text>
<path d="M1458,452 H1408 a2,2 0 0 0 -2,2 V466.8 a2,2 0 0 0 2,2 H1458 Z" fill="#ef5350"/>
<rect x="1458" y="452" width="1" height="16.8" fill="#fff"/>
<text x="1432.0" y="464.7" font-size="12" fill="#fff" text-anchor="middle" textLength="42.3" lengthAdjust="spacingAndGlyphs">GBPUSD</text>
<path d="M1459,611.1 H1512.8 a2,2 0 0 1 2,2 V625.8 a2,2 0 0 1 -2,2 H1459 Z" fill="#000"/>
<text x="1508.9" y="623.8" font-size="12" fill="#fff" text-anchor="end" textLength="41.2" lengthAdjust="spacingAndGlyphs">1.22001</text>
<rect x="1366" y="692.8" width="93.5" height="16" fill="#fff"/>
<text x="1370.5" y="704.2" font-size="12" fill="#131722" textLength="82" lengthAdjust="spacingAndGlyphs">Regular Bearish</text>
<rect x="1458" y="690.5" width="57" height="18" fill="#fff"/>
<text x="1467.7" y="704.2" font-size="12" fill="#131722">72.08</text>
<text x="1467.7" y="722" font-size="12" fill="#50535e">60.00</text>
<path d="M1458,720.1 H1380.1 a2,2 0 0 0 -2,2 V734.8 a2,2 0 0 0 2,2 H1458 Z" fill="#ffeb3b"/>
<text x="1382.6" y="732.5" font-size="12" fill="#131722" textLength="70.3" lengthAdjust="spacingAndGlyphs">RSI-based MA</text>
<path d="M1459,720.1 H1499.9 a2,2 0 0 1 2,2 V734.8 a2,2 0 0 1 -2,2 H1459 Z" fill="#ffeb3b"/>
<text x="1467.7" y="732.5" font-size="12" fill="#131722">43.01</text>
<rect x="1369" y="736.8" width="90.5" height="17" fill="#fff"/>
<text x="1374.5" y="749.4" font-size="12" fill="#131722" textLength="78" lengthAdjust="spacingAndGlyphs">Regular Bullish</text>
<rect x="1460" y="736.8" width="42" height="17" fill="#fff"/>
<text x="1467.7" y="749.4" font-size="12" fill="#131722">35.85</text>
<path d="M1458,754 H1434.3 a2,2 0 0 0 -2,2 V768.7 a2,2 0 0 0 2,2 H1458 Z" fill="#7e57c2"/>
<text x="1437.4" y="766.5" font-size="12" fill="#fff" textLength="15.5" lengthAdjust="spacingAndGlyphs">RSI</text>
<path d="M1459,754 H1499.9 a2,2 0 0 1 2,2 V768.7 a2,2 0 0 1 -2,2 H1459 Z" fill="#7e57c2"/>
<text x="1467.7" y="766.5" font-size="12" fill="#fff">32.76</text>
<text x="1467.7" y="786.3" font-size="12" fill="#50535e">20.00</text>
<text x="65.6" y="812.3" font-size="12" fill="#50535e" text-anchor="middle" textLength="19.7" lengthAdjust="spacingAndGlyphs">Oct</text>
<text x="153.5" y="812.3" font-size="12" fill="#50535e" text-anchor="middle" textLength="12.4" lengthAdjust="spacingAndGlyphs">17</text>
<text x="241.5" y="812.3" font-size="12" fill="#50535e" text-anchor="middle" textLength="20.5" lengthAdjust="spacingAndGlyphs">Nov</text>
<text x="329.4" y="812.3" font-size="12" fill="#50535e" text-anchor="middle" textLength="12.4" lengthAdjust="spacingAndGlyphs">16</text>
<text x="417.4" y="812.3" font-size="12" fill="#50535e" text-anchor="middle" textLength="19.7" lengthAdjust="spacingAndGlyphs">Dec</text>
<text x="585.2" y="812.3" font-size="12" fill="#50535e" text-anchor="middle" font-weight="bold" textLength="27.5" lengthAdjust="spacingAndGlyphs">2024</text>
<text x="673.2" y="812.3" font-size="12" fill="#50535e" text-anchor="middle" textLength="12.4" lengthAdjust="spacingAndGlyphs">16</text>
<text x="769.1" y="812.3" font-size="12" fill="#50535e" text-anchor="middle" textLength="19.4" lengthAdjust="spacingAndGlyphs">Feb</text>
<text x="937.0" y="812.3" font-size="12" fill="#50535e" text-anchor="middle" textLength="19.5" lengthAdjust="spacingAndGlyphs">Mar</text>
<text x="1104.9" y="812.3" font-size="12" fill="#50535e" text-anchor="middle" textLength="18.5" lengthAdjust="spacingAndGlyphs">Apr</text>
<text x="1192.8" y="812.3" font-size="12" fill="#50535e" text-anchor="middle" textLength="12.4" lengthAdjust="spacingAndGlyphs">16</text>
<text x="1280.8" y="812.3" font-size="12" fill="#50535e" text-anchor="middle" textLength="20" lengthAdjust="spacingAndGlyphs">May</text>
<text x="1368.7" y="812.3" font-size="12" fill="#50535e" text-anchor="middle" textLength="12.4" lengthAdjust="spacingAndGlyphs">16</text>
<g fill="#131722"><path d="M10,834 H17.8 V843.8 H13.9 V837.9 H10 Z"/><circle cx="21.1" cy="836.2" r="2"/><path d="M25.2,834 H29.6 L25.9,843.8 H21.1 Z"/></g>
<text x="33" y="843.5" font-size="12.5" fill="#131722" textLength="70.2" lengthAdjust="spacingAndGlyphs">TradingView</text>
<defs><filter id="wsh" x="-20%" y="-20%" width="140%" height="140%"><feGaussianBlur in="SourceAlpha" stdDeviation="0.9"/><feOffset dx="-1.5" dy="2" result="b"/><feFlood flood-color="#222" flood-opacity="0.85"/><feComposite in2="b" operator="in" result="s0"/><feComposite in="s0" in2="SourceAlpha" operator="out" result="s"/><feMerge><feMergeNode in="s"/><feMergeNode in="SourceGraphic"/></feMerge></filter></defs>
<g filter="url(#wsh)">
<path d="M1303,776 L1343,776 L1336,818 L1296,818 Z M1314,783 L1312,792 L1330,792 L1332,783 Z M1310,800 L1308,811 L1326,811 L1328,800 Z" fill="#fff" fill-rule="evenodd" fill-opacity="0.7"/>
<polygon points="1297,770 1306,770 1305,780 1296,780" fill="#fff" fill-opacity="0.7"/>
<polygon points="1306,767 1347,767 1345,776 1304,776" fill="#fff" fill-opacity="0.7"/>
<polygon points="1290,793 1300,793 1299,800 1289,800" fill="#fff" fill-opacity="0.7"/>
<polygon points="1282,818 1291,818 1301,797 1293,797" fill="#fff" fill-opacity="0.7"/>
<polygon points="1356,766 1400,766 1398,774 1355,774" fill="#fff" fill-opacity="0.7"/>
<polygon points="1355,774 1362,774 1360,788 1353,788" fill="#fff" fill-opacity="0.7"/>
<polygon points="1352,788 1398,788 1397,795 1351,795" fill="#fff" fill-opacity="0.7"/>
<polygon points="1393,766 1401,766 1392,818 1384,818" fill="#fff" fill-opacity="0.7"/>
<polygon points="1346,803 1385,803 1384,810 1345,810" fill="#fff" fill-opacity="0.7"/>
<polygon points="1368,812 1390,812 1389,819 1367,819" fill="#fff" fill-opacity="0.7"/>
<polygon points="1404,766 1412,766 1404,818 1396,818" fill="#fff" fill-opacity="0.7"/>
<polygon points="1412,770 1432,770 1431,776 1411,776" fill="#fff" fill-opacity="0.7"/>
<polygon points="1425,770 1432,770 1424,806 1417,806" fill="#fff" fill-opacity="0.7"/>
<polygon points="1400,818 1408,818 1415,806 1409,806" fill="#fff" fill-opacity="0.7"/>
<polygon points="1417,806 1424,806 1428,818 1421,818" fill="#fff" fill-opacity="0.7"/>
<polygon points="1436,774 1458,774 1457,781 1435,781" fill="#fff" fill-opacity="0.7"/>
<polygon points="1442,766 1449,766 1440,818 1433,818" fill="#fff" fill-opacity="0.7"/>
<polygon points="1450,781 1458,781 1440,815 1432,815" fill="#fff" fill-opacity="0.7"/>
<polygon points="1474,767 1482,767 1470,786 1462,786" fill="#fff" fill-opacity="0.7"/>
<polygon points="1462,786 1484,786 1482,792 1460,792" fill="#fff" fill-opacity="0.7"/>
<polygon points="1478,792 1486,792 1472,810 1464,810" fill="#fff" fill-opacity="0.7"/>
<polygon points="1460,812 1486,806 1485,813 1459,819" fill="#fff" fill-opacity="0.7"/>
<polygon points="1494,770 1526,770 1525,777 1493,777" fill="#fff" fill-opacity="0.7"/>
<polygon points="1518,777 1527,777 1497,800 1488,800" fill="#fff" fill-opacity="0.7"/>
<polygon points="1498,780 1506,780 1528,800 1519,800" fill="#fff" fill-opacity="0.7"/>
<polygon points="1486,801 1524,801 1523,808 1485,808" fill="#fff" fill-opacity="0.7"/>
<polygon points="1503,794 1511,794 1506,818 1498,818" fill="#fff" fill-opacity="0.7"/>
<polygon points="1472,813 1522,813 1521,820 1471,820" fill="#fff" fill-opacity="0.7"/>
</g>
<text x="1295.5" y="852.5" font-size="34" font-weight="bold" font-style="italic" fill="#9999ff" stroke="#9999ff" stroke-width="1.8" textLength="223" lengthAdjust="spacing" style="filter:drop-shadow(-1px 1px 0.6px rgba(60,60,90,0.45))">zzrt01.cn</text>
</svg></body></html>
